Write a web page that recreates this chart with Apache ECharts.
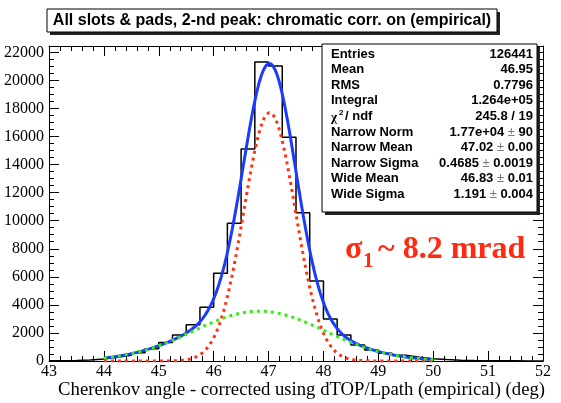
<!DOCTYPE html>
<html>
<head>
<meta charset="utf-8">
<script src="https://cdn.jsdelivr.net/npm/echarts/dist/echarts.min.js"></script>
<style>
  html, body { margin: 0; padding: 0; background: #ffffff; }
  #chart { width: 561px; height: 403px; }
</style>
</head>
<body>
<div id="chart"></div>
<script>
// Histogram: lower bin edges (deg) and entries per 0.25 deg bin
const binLow = [
  43.00, 43.25, 43.50, 43.75, 44.00, 44.25, 44.50, 44.75, 45.00, 45.25, 45.50, 45.75,
  46.00, 46.25, 46.50, 46.75, 47.00, 47.25, 47.50, 47.75, 48.00, 48.25, 48.50, 48.75,
  49.00, 49.25, 49.50, 49.75, 50.00, 50.25, 50.50, 50.75, 51.00, 51.25, 51.50, 51.75
];
const binCounts = [
  15, 30, 70, 140, 265, 405, 590, 875, 1310, 1850, 2590, 3830,
  6250, 9810, 15110, 21310, 21030, 15950, 10570, 5700, 3000, 1850, 1140, 780,
  550, 405, 265, 165, 100, 60, 40, 25, 15, 10, 5, 5
];
const histUpperEdge = 52.0;

// Double-Gaussian fit: [norm, mean, sigma]
const narrowFit = [17700, 47.02, 0.4685];
const wideFit = [3550, 46.83, 1.191];
const fitRange = [44.0, 50.0];

// Axis ticks
const xTicks = [43, 44, 45, 46, 47, 48, 49, 50, 51, 52];
const yTickStep = 2000;
const yTop = 22450;

// Statistics box rows
const statLabels = ['Entries', 'Mean', 'RMS', 'Integral', 'CHI2', 'Narrow Norm',
                    'Narrow Mean', 'Narrow Sigma', 'Wide Mean', 'Wide Sigma'];
const statValues = ['126441', '46.95', '0.7796', '1.264e+05', '245.8 / 19',
                    '1.77e+04 \u00b1 90', '47.02 \u00b1 0.00', '0.4685 \u00b1 0.0019',
                    '46.83 \u00b1 0.01', '1.191 \u00b1 0.004'];

const titleText = 'All slots & pads, 2-nd peak: chromatic corr. on (empirical)';
const xTitle = 'Cherenkov angle - corrected using dTOP/Lpath (empirical) (deg)';

// ---- build series data ----
const histData = binLow.map((x, i) => [x, binCounts[i]]);
histData.push([histUpperEdge, binCounts[binCounts.length - 1]]);

function gaus(p, x) {
  const t = (x - p[1]) / p[2];
  return p[0] * Math.exp(-0.5 * t * t);
}
const narrowCurve = [], wideCurve = [], totalCurve = [];
const nStep = 300;
for (let k = 0; k <= nStep; k++) {
  const x = fitRange[0] + (fitRange[1] - fitRange[0]) * k / nStep;
  const a = gaus(narrowFit, x), b = gaus(wideFit, x);
  narrowCurve.push([x, a]);
  wideCurve.push([x, b]);
  totalCurve.push([x, a + b]);
}

// ---- graphics: title box, stats box, annotations ----
const SANS = '"Liberation Sans", Arial, Helvetica, sans-serif';
const SERIF = '"Liberation Serif", "Times New Roman", serif';
const graphics = [];

// title box with drop shadow
const tbX = 47, tbY = 9, tbW = 450, tbH = 23;
graphics.push({ type: 'rect', shape: { x: tbX + 3, y: tbY + 3, width: tbW, height: tbH }, style: { fill: '#222' }, z: 10 });
graphics.push({ type: 'rect', shape: { x: tbX, y: tbY, width: tbW, height: tbH }, style: { fill: '#fff', stroke: '#000', lineWidth: 1 }, z: 11 });
graphics.push({ type: 'text', x: tbX + tbW / 2, y: tbY + tbH / 2 + 0.5, style: { text: titleText, font: 'bold 16px ' + SANS, fill: '#000', align: 'center', verticalAlign: 'middle' }, z: 12 });

// statistics box with drop shadow
const sbX = 322, sbY = 44, sbW = 215, sbH = 168;
graphics.push({ type: 'rect', shape: { x: sbX + 3, y: sbY + 3, width: sbW, height: sbH }, style: { fill: '#222' }, z: 10 });
graphics.push({ type: 'rect', shape: { x: sbX, y: sbY, width: sbW, height: sbH }, style: { fill: '#fff', stroke: '#000', lineWidth: 1 }, z: 11 });
const rowY0 = 54, rowDy = 15.6;
statLabels.forEach((lab, i) => {
  const y = rowY0 + i * rowDy;
  if (lab === 'CHI2') {
    graphics.push({ type: 'text', x: 331, y: y + 1, style: { text: '\u03c7', font: 'bold 13px ' + SERIF, fill: '#000', verticalAlign: 'middle' }, z: 12 });
    graphics.push({ type: 'text', x: 339, y: y - 4, style: { text: '2', font: 'bold 8px ' + SANS, fill: '#000', verticalAlign: 'middle' }, z: 12 });
    graphics.push({ type: 'text', x: 345, y: y, style: { text: '/ ndf', font: 'bold 13px ' + SANS, fill: '#000', verticalAlign: 'middle' }, z: 12 });
  } else {
    graphics.push({ type: 'text', x: 331, y: y, style: { text: lab, font: 'bold 13px ' + SANS, fill: '#000', verticalAlign: 'middle' }, z: 12 });
  }
  const parts = statValues[i].split(' \u00b1 ');
  const rich = parts.length === 2
    ? '{v|' + parts[0] + '}{p| \u00b1 }{v|' + parts[1] + '}'
    : '{v|' + parts[0] + '}';
  graphics.push({
    type: 'text', x: 533, y: y,
    style: {
      text: rich, align: 'right', verticalAlign: 'middle',
      rich: {
        v: { font: 'bold 13px ' + SANS, fill: '#000' },
        p: { font: '13px ' + SANS, fill: '#777' }
      }
    }, z: 12
  });
});

// sigma annotation
const RED = '#ff2a10';
graphics.push({ type: 'text', x: 345, y: 250, style: { text: '\u03c3', font: 'bold 32px ' + SERIF, fill: RED, verticalAlign: 'middle' }, z: 12 });
graphics.push({ type: 'text', x: 363, y: 262, style: { text: '1', font: 'bold 21px ' + SERIF, fill: RED, verticalAlign: 'middle' }, z: 12 });
graphics.push({ type: 'text', x: 378, y: 250, style: { text: '~ 8.2 mrad', font: 'bold 32px ' + SERIF, fill: RED, verticalAlign: 'middle' }, z: 12 });

// x-axis title, right-aligned at the frame end
graphics.push({ type: 'text', x: 545, y: 390, style: { text: xTitle, font: '18.7px ' + SERIF, fill: '#000', align: 'right', verticalAlign: 'middle' }, z: 12 });

// ---- axes ----
function xAxisDef(pos, showLabels) {
  return {
    type: 'value', position: pos, min: xTicks[0], max: xTicks[xTicks.length - 1], interval: 1,
    axisLine: { show: true, onZero: false, lineStyle: { color: '#000', width: 1 } },
    axisTick: { show: true, inside: true, length: 10, lineStyle: { color: '#000', width: 1 } },
    minorTick: { show: true, splitNumber: 5, length: 5, lineStyle: { color: '#000', width: 1 } },
    axisLabel: { show: showLabels, fontFamily: SERIF, fontSize: 16, color: '#000', margin: 3, hideOverlap: false },
    splitLine: { show: false }, minorSplitLine: { show: false }
  };
}
function yAxisDef(pos, showLabels) {
  return {
    type: 'value', position: pos, min: 0, max: yTop, interval: yTickStep,
    axisLine: { show: true, onZero: false, lineStyle: { color: '#000', width: 1 } },
    axisTick: { show: true, inside: true, length: 10, lineStyle: { color: '#000', width: 1 } },
    minorTick: { show: true, splitNumber: 4, length: 5, lineStyle: { color: '#000', width: 1 } },
    axisLabel: {
      show: showLabels, fontFamily: SERIF, fontSize: 16, color: '#000', margin: 5, hideOverlap: false,
      formatter: v => (v % yTickStep === 0 ? String(v) : '')
    },
    splitLine: { show: false }, minorSplitLine: { show: false }
  };
}

const chart = echarts.init(document.getElementById('chart'), null, { renderer: 'canvas' });
chart.setOption({
  animation: false,
  backgroundColor: '#ffffff',
  grid: { left: 49, right: 18, top: 46, bottom: 42, containLabel: false },
  xAxis: [xAxisDef('bottom', true), xAxisDef('top', false)],
  yAxis: [yAxisDef('left', true), yAxisDef('right', false)],
  series: [
    {
      name: 'histogram', type: 'line', step: 'end', data: histData,
      xAxisIndex: 0, yAxisIndex: 0, symbol: 'none', showSymbol: false,
      lineStyle: { color: '#000', width: 1.5 }, z: 2
    },
    {
      name: 'total fit', type: 'line', data: totalCurve,
      xAxisIndex: 0, yAxisIndex: 0, symbol: 'none', showSymbol: false, smooth: false,
      lineStyle: { color: '#1a3cff', width: 3 }, z: 3
    },
    {
      name: 'narrow', type: 'line', data: narrowCurve,
      xAxisIndex: 0, yAxisIndex: 0, symbol: 'none', showSymbol: false,
      lineStyle: { color: '#ff3311', width: 3, type: [3, 4], cap: 'butt' }, z: 4
    },
    {
      name: 'wide', type: 'line', data: wideCurve,
      xAxisIndex: 0, yAxisIndex: 0, symbol: 'none', showSymbol: false,
      lineStyle: { color: '#33ee11', width: 3, type: [3, 4], cap: 'butt' }, z: 5
    }
  ],
  graphic: graphics
});
</script>
</body>
</html>
